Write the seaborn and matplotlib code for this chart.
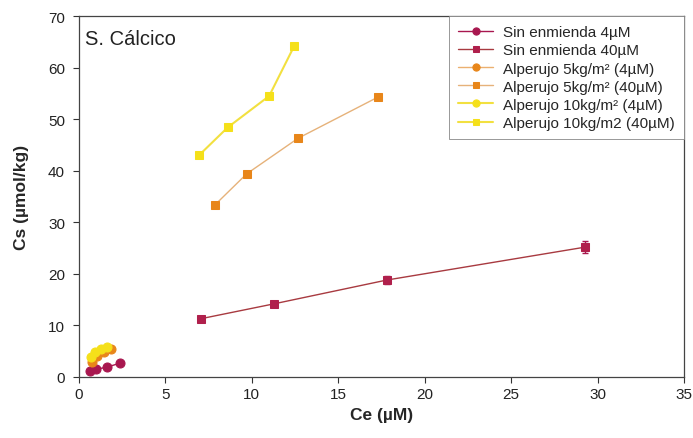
import matplotlib
matplotlib.use("Agg")
import matplotlib.pyplot as plt
import seaborn as sns
import pandas as pd

sns.set_style("ticks")
plt.rcParams["font.family"] = ["Liberation Sans", "DejaVu Sans"]

# Sorption isotherm data, Ce (µM) vs Cs (µmol/kg)
sin4_ce = [0.65, 1.0, 1.6, 2.4]
sin4_cs = [1.2, 1.5, 1.9, 2.7]

sin40_ce = [7.05, 11.3, 17.8, 29.3]
sin40_cs = [11.3, 14.2, 18.8, 25.2]
sin40_err = [0.3, 0.4, 0.8, 1.2]

alp5_4_ce = [0.75, 1.05, 1.45, 1.85]
alp5_4_cs = [3.0, 4.0, 4.9, 5.5]

alp5_40_ce = [7.87, 9.7, 12.67, 17.3]
alp5_40_cs = [33.4, 39.4, 46.3, 54.3]

alp10_4_ce = [0.7, 0.95, 1.25, 1.6]
alp10_4_cs = [3.8, 4.9, 5.5, 5.9]

alp10_40_ce = [6.94, 8.6, 11.0, 12.45]
alp10_40_cs = [43.0, 48.4, 54.5, 64.2]

labels = [
    "Sin enmienda 4µM",
    "Sin enmienda 40µM",
    "Alperujo 5kg/m² (4µM)",
    "Alperujo 5kg/m² (40µM)",
    "Alperujo 10kg/m² (4µM)",
    "Alperujo 10kg/m2 (40µM)",
]

# x, y, marker, marker colour, line colour, line width, marker size
series = [
    (sin4_ce, sin4_cs, "o", "#A8174F", "#A8174F", 1.0, 6.5),
    (sin40_ce, sin40_cs, "s", "#B0204C", "#A83A40", 1.0, 5.5),
    (alp5_4_ce, alp5_4_cs, "o", "#E8861A", "#EBB070", 1.0, 6.5),
    (alp5_40_ce, alp5_40_cs, "s", "#E8861A", "#E6B27A", 1.0, 5.5),
    (alp10_4_ce, alp10_4_cs, "o", "#F5E01A", "#F2E040", 1.5, 6.5),
    (alp10_40_ce, alp10_40_cs, "s", "#F5E01A", "#F2E040", 1.5, 5.5),
]

fig, ax = plt.subplots(figsize=(6.93, 4.39), dpi=100)
fig.subplots_adjust(left=0.114, right=0.987, bottom=0.139, top=0.961)

for (xs, ys, mk, mc, lc, lw, ms), lab in zip(series, labels):
    df = pd.DataFrame({"Ce": xs, "Cs": ys})
    sns.lineplot(data=df, x="Ce", y="Cs", ax=ax, color=lc, linewidth=lw,
                 marker=mk, markersize=ms, markerfacecolor=mc,
                 markeredgecolor=mc, label=lab, sort=False)

ax.errorbar(sin40_ce, sin40_cs, yerr=sin40_err, fmt="none",
            ecolor="#A8174F", elinewidth=1, capsize=2.5, zorder=1)

ax.set_xlim(0, 35)
ax.set_ylim(0, 70)
ax.set_xticks(range(0, 36, 5))
ax.set_yticks(range(0, 71, 10))
ax.tick_params(axis="both", direction="out", length=4, labelsize=11,
               color="#333333", labelcolor="#222222")
ax.tick_params(axis="y", pad=6)
for s in ax.spines.values():
    s.set_visible(True)
    s.set_color("#444444")
    s.set_linewidth(0.9)

ax.set_xlabel("Ce (µM)", fontsize=12.5, fontweight="bold", labelpad=4)
ax.set_ylabel("Cs (µmol/kg)", fontsize=12.5, fontweight="bold", labelpad=14)

ax.text(0.01, 0.965, "S. Cálcico", transform=ax.transAxes, fontsize=14.5,
        va="top", ha="left", color="#222222")

leg = ax.legend(loc="upper right", fontsize=11, frameon=True, fancybox=False,
                edgecolor="#888888", handlelength=2.3, handletextpad=0.65,
                labelspacing=0.27, borderpad=0.6, borderaxespad=0,
                bbox_to_anchor=(1.0, 1.0), framealpha=1, markerscale=0.8)
leg.get_frame().set_linewidth(0.6)

fig.savefig("out.png", dpi=100)
